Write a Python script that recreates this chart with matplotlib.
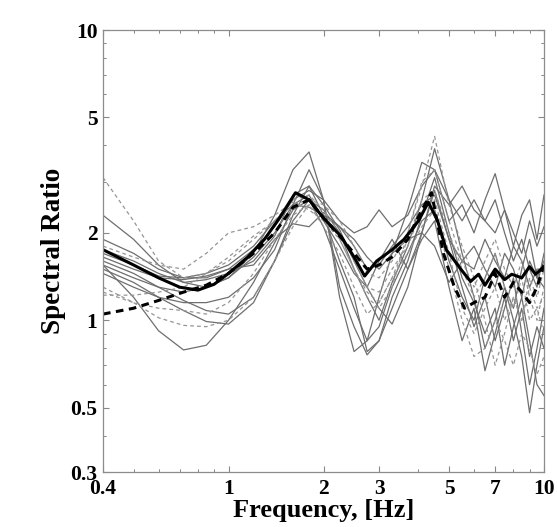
import matplotlib
matplotlib.use("Agg")
import matplotlib.pyplot as plt
from matplotlib.ticker import FixedLocator, NullFormatter, LogLocator

# Shared frequency grid for the individual (thin) curves
freq = [0.4, 0.5, 0.6, 0.72, 0.85, 1.0, 1.2, 1.4, 1.6, 1.8, 2.0, 2.25, 2.5, 2.75, 3.0,
        3.3, 3.7, 4.1, 4.5, 5.0, 5.5, 6.0, 6.5, 7.0, 7.5, 8.0, 8.5, 9.0, 9.5, 10.0]

solid_1 = [1.55, 1.2, 0.92, 0.79, 0.82, 1.0, 1.35, 1.85, 2.4, 2.6, 2.1, 1.5, 1.1, 0.85, 0.95,
           1.3, 1.7, 2.2, 2.4, 1.6, 1.2, 1.0, 1.4, 1.7, 1.3, 1.1, 1.5, 1.9, 1.4, 1.6]
solid_2 = [2.3, 1.9, 1.55, 1.35, 1.3, 1.4, 1.7, 2.3, 3.3, 3.8, 2.6, 1.2, 0.78, 0.85, 1.2,
           1.7, 2.4, 3.5, 3.3, 2.2, 2.5, 2.0, 2.6, 3.2, 2.4, 1.8, 2.3, 2.6, 1.9, 2.7]
solid_3 = [1.5, 1.35, 1.2, 1.08, 0.99, 0.97, 1.15, 1.6, 2.3, 2.9, 2.3, 1.6, 1.2, 0.78, 0.85,
           1.1, 1.5, 2.0, 2.8, 1.9, 1.3, 0.95, 1.2, 0.85, 1.1, 1.4, 0.9, 0.6, 0.8, 1.1]
solid_4 = [1.6, 1.45, 1.3, 1.17, 1.08, 1.05, 1.2, 1.6, 2.2, 2.6, 2.4, 2.0, 1.5, 1.2, 1.0,
           1.35, 1.8, 2.6, 3.9, 2.6, 1.7, 1.2, 0.8, 1.0, 1.3, 1.0, 0.75, 0.48, 0.7, 0.95]
solid_5 = [1.65, 1.5, 1.4, 1.38, 1.42, 1.5, 1.55, 1.9, 2.15, 2.1, 2.35, 2.1, 1.9, 1.65, 1.5,
           1.7, 1.9, 2.0, 1.8, 1.35, 1.6, 1.5, 1.9, 1.6, 1.4, 1.8, 1.6, 1.3, 1.5, 1.5]
solid_6 = [1.75, 1.6, 1.45, 1.35, 1.38, 1.45, 1.6, 1.95, 2.7, 2.9, 2.5, 2.05, 1.6, 1.3, 1.1,
           0.97, 1.3, 2.0, 2.9, 2.5, 2.9, 2.4, 2.2, 2.6, 2.0, 1.6, 1.9, 1.5, 1.3, 1.7]
solid_7 = [1.45, 1.3, 1.2, 1.15, 1.15, 1.2, 1.4, 1.75, 2.5, 3.3, 2.6, 1.3, 0.95, 0.76, 0.85,
           1.2, 1.6, 2.3, 3.1, 2.0, 1.4, 1.15, 0.9, 1.1, 0.7, 0.95, 1.2, 0.85, 0.6, 0.55]
solid_8 = [1.9, 1.7, 1.5, 1.4, 1.4, 1.5, 1.75, 2.1, 2.6, 2.8, 2.6, 2.2, 2.0, 2.1, 2.4,
           2.1, 2.3, 2.9, 3.3, 2.6, 2.2, 2.6, 2.2, 2.0, 2.4, 2.0, 1.7, 2.2, 1.8, 2.1]
solid_9 = [1.55, 1.4, 1.3, 1.25, 1.3, 1.4, 1.65, 2.0, 2.5, 2.7, 2.2, 1.8, 1.45, 1.3, 1.6,
           1.9, 1.5, 1.9, 2.2, 1.3, 0.85, 1.1, 0.67, 0.9, 1.2, 0.85, 1.1, 0.75, 0.95, 0.8]
solid_10 = [1.7, 1.55, 1.42, 1.4, 1.45, 1.55, 1.8, 2.2, 2.5, 2.45, 2.3, 2.1, 1.8, 1.5, 1.55,
            1.8, 2.1, 2.5, 2.7, 1.9, 1.6, 1.8, 1.5, 1.3, 1.7, 1.5, 1.2, 1.6, 1.4, 1.3]

dashed_1 = [3.1, 2.2, 1.6, 1.4, 1.45, 1.6, 1.9, 2.2, 2.6, 2.7, 2.4, 2.0, 1.6, 1.3, 1.25,
            1.5, 1.8, 2.4, 2.6, 1.7, 1.1, 0.9, 1.1, 1.3, 1.0, 1.2, 1.0, 1.3, 1.1, 1.2]
dashed_2 = [1.3, 1.15, 1.02, 0.96, 0.95, 1.0, 1.2, 1.6, 2.1, 2.5, 2.4, 1.9, 1.5, 1.25, 1.15,
            1.4, 1.7, 2.1, 2.4, 1.5, 1.0, 0.75, 0.8, 1.0, 0.85, 0.7, 0.9, 0.8, 0.65, 0.75]
dashed_3 = [1.22, 1.22, 1.25, 1.3, 1.45, 1.65, 1.95, 2.2, 2.5, 2.6, 2.5, 2.2, 1.8, 1.45, 1.4,
            1.6, 2.0, 3.0, 3.3, 2.2, 1.6, 1.3, 1.6, 1.9, 1.5, 1.3, 1.6, 1.2, 1.0, 1.3]
dashed_4 = [1.8, 1.65, 1.55, 1.5, 1.7, 2.0, 2.1, 2.3, 2.55, 2.4, 2.2, 1.9, 1.5, 1.2, 1.1,
            1.3, 2.0, 2.9, 4.3, 2.5, 1.8, 1.4, 1.0, 0.7, 0.9, 1.2, 1.0, 1.4, 1.2, 1.5]
dashed_5 = [1.25, 1.15, 1.1, 1.08, 1.05, 1.15, 1.45, 1.9, 2.3, 2.5, 2.1, 1.7, 1.3, 1.05, 1.15,
            1.4, 1.9, 2.6, 2.8, 2.0, 1.5, 1.2, 1.4, 1.7, 1.3, 1.1, 1.4, 1.0, 1.1, 0.9]

solid_curves = [solid_1, solid_2, solid_3, solid_4, solid_5,
                solid_6, solid_7, solid_8, solid_9, solid_10]
dashed_curves = [dashed_1, dashed_2, dashed_3, dashed_4, dashed_5]

# Thick black curves
mean_freq = [0.4, 0.5, 0.6, 0.7, 0.8, 0.9, 1.0, 1.15, 1.3, 1.45, 1.63, 1.8, 2.0, 2.27, 2.5,
             2.7, 2.95, 3.3, 3.6, 4.0, 4.3, 4.6, 4.9, 5.5, 5.85, 6.2, 6.5, 7.0, 7.5, 7.9,
             8.5, 9.0, 9.4, 10.0]
mean_solid = [1.75, 1.55, 1.4, 1.3, 1.27, 1.33, 1.45, 1.65, 1.9, 2.25, 2.75, 2.6, 2.25, 1.95, 1.65,
              1.42, 1.6, 1.75, 1.9, 2.2, 2.55, 2.2, 1.75, 1.48, 1.36, 1.44, 1.32, 1.5, 1.38, 1.44,
              1.40, 1.53, 1.44, 1.53]

mean2_freq = [0.4, 0.5, 0.6, 0.72, 0.85, 1.0, 1.2, 1.4, 1.6, 1.8, 2.0, 2.25, 2.5, 2.75, 3.0,
              3.3, 3.7, 4.1, 4.4, 4.8, 5.2, 5.6, 6.0, 6.5, 7.0, 7.5, 8.0, 8.5, 9.0, 9.5, 10.0]
mean_dashed = [1.05, 1.1, 1.17, 1.25, 1.32, 1.45, 1.7, 2.0, 2.45, 2.6, 2.25, 1.95, 1.7, 1.5, 1.55,
               1.65, 1.9, 2.4, 2.75, 1.7, 1.3, 1.1, 1.15, 1.2, 1.45, 1.2, 1.35, 1.25, 1.15, 1.3, 1.55]

xticks = [0.4, 1, 2, 3, 5, 7, 10]
xtick_labels = ["0.4", "1", "2", "3", "5", "7", "10"]
yticks = [0.3, 0.5, 1, 2, 5, 10]
ytick_labels = ["0.3", "0.5", "1", "2", "5", "10"]

plt.rcParams['font.family'] = ['Liberation Serif', 'DejaVu Serif']
plt.rcParams['font.weight'] = 'bold'

fig = plt.figure(figsize=(5.57, 5.27), dpi=100)
ax = fig.add_axes([103 / 557, 55 / 527, 441 / 557, 442 / 527])

for c in solid_curves:
    ax.plot(freq, c, color='#6e6e6e', lw=0.9, ls='-')
for c in dashed_curves:
    ax.plot(freq, c, color='#959595', lw=0.9, ls=(0, (3, 2.5)))

ax.plot(mean2_freq, mean_dashed, color='black', lw=2.2, ls=(0, (2.5, 1.8)))
ax.plot(mean_freq, mean_solid, color='black', lw=2.2, ls='-')

ax.set_xscale('log')
ax.set_yscale('log')
ax.set_xlim(0.4, 10)
ax.set_ylim(0.3, 10)

ax.xaxis.set_major_locator(FixedLocator(xticks))
ax.set_xticklabels(xtick_labels)
ax.yaxis.set_major_locator(FixedLocator(yticks))
ax.set_yticklabels(ytick_labels)
ax.xaxis.set_minor_locator(LogLocator(base=10, subs=(0.4, 0.5, 0.6, 0.7, 0.8, 0.9, 1.0, 2.0, 3.0, 4.0, 5.0, 6.0, 7.0, 8.0, 9.0)))
ax.yaxis.set_minor_locator(LogLocator(base=10, subs=(0.3, 0.4, 0.6, 0.7, 0.8, 0.9, 1.0, 2.0, 3.0, 4.0, 6.0, 7.0, 8.0, 9.0)))
ax.xaxis.set_minor_formatter(NullFormatter())
ax.yaxis.set_minor_formatter(NullFormatter())

ax.tick_params(which='both', direction='in', top=True, right=True, color='#888888')
ax.tick_params(which='major', length=4, width=0.8, labelsize=15.5)
ax.tick_params(axis='x', which='major', pad=5)
ax.tick_params(axis='y', which='major', pad=4)
ax.tick_params(which='minor', length=2.5, width=0.6)
for lab in ax.get_xticklabels() + ax.get_yticklabels():
    lab.set_fontweight('bold')

for s in ax.spines.values():
    s.set_color('#8c8c8c')
    s.set_linewidth(0.9)

ax.set_xlabel('Frequency, [Hz]', fontsize=19, fontweight='bold', labelpad=0)
ax.set_ylabel('Spectral Ratio', fontsize=19.5, fontweight='bold', labelpad=3)

fig.savefig('out.png', dpi=100)
